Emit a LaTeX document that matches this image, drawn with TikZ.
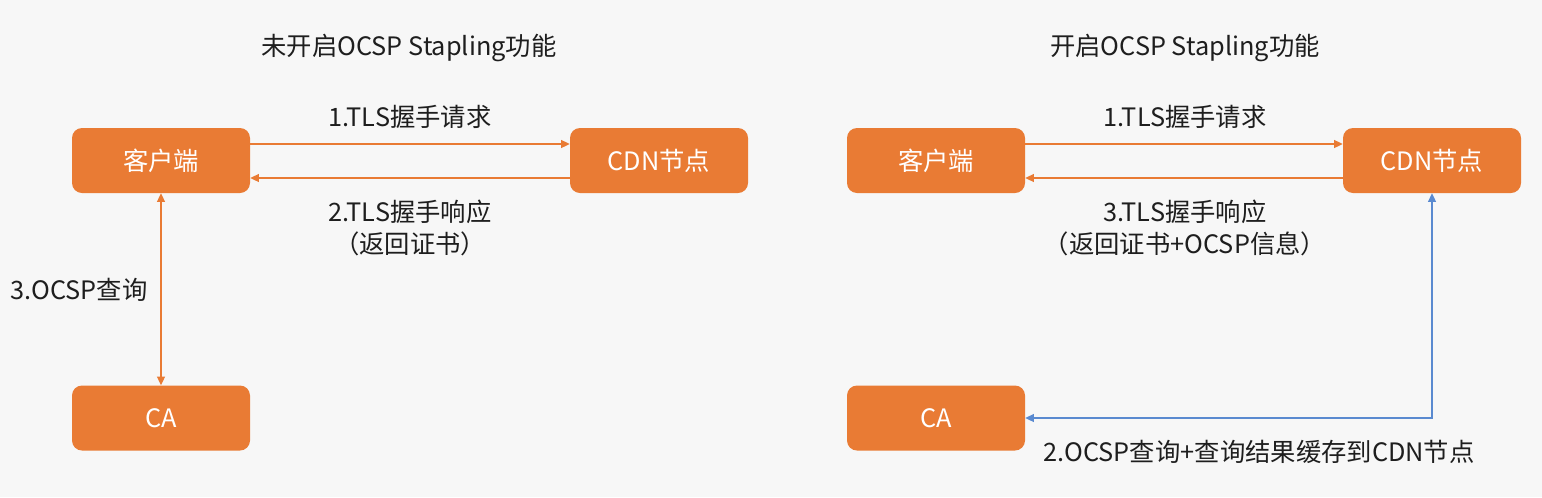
\documentclass[tikz,border=0pt]{standalone}
\usepackage{fontspec}
\setmainfont{Noto Sans CJK SC}
\usetikzlibrary{arrows.meta}

\definecolor{boxorange}{RGB}{233,123,52}
\definecolor{linkblue}{RGB}{90,138,208}
\definecolor{bggray}{RGB}{247,247,247}
\definecolor{txtgray}{RGB}{30,30,30}

\tikzset{
  box/.style={fill=boxorange, rounded corners=7.5pt, minimum width=133.5pt,
    minimum height=48.75pt, inner sep=0pt, text=white,
    font=\fontsize{19}{23.5}\selectfont},
  txt/.style={text=txtgray, align=center, inner sep=0pt,
    font=\fontsize{19}{23.5}\selectfont},
  link/.style={boxorange, line width=0.9pt, ->},
  >={Triangle[length=6.5pt,width=6pt]},
}

\begin{document}
\begin{tikzpicture}[x=0.75pt,y=-0.75pt]
  \fill[bggray] (0,0) rectangle (1542,497);
  \useasboundingbox (0,0) rectangle (1542,497);

  % without stapling
  \node[txt] (title1) at (409,48) {未开启OCSP Stapling功能};
  \node[box] (client1) at (161,160.5) {客户端};
  \node[box] (cdn1) at (659,160.5) {CDN节点};
  \node[box] (ca1) at (161,418) {CA};

  \draw[link] (client1.east |- 0,144) -- (cdn1.west |- 0,144);
  \draw[link] (cdn1.west |- 0,178) -- (client1.east |- 0,178);
  \draw[link, <->] (client1.south) -- (ca1.north);

  \node[txt] (req1) at (410,117) {1.TLS握手请求};
  \node[txt] (resp1) at (410,228) {2.TLS握手响应\\（返回证书）};
  \node[txt] (query1) at (79,290) {3.OCSP查询};

  % with stapling
  \node[txt] (title2) at (1185,48) {开启OCSP Stapling功能};
  \node[box] (client2) at (936,160.5) {客户端};
  \node[box] (cdn2) at (1432,160.5) {CDN节点};
  \node[box] (ca2) at (936,418) {CA};
  \coordinate (tap) at (1432,0);

  \draw[link] (client2.east |- 0,144) -- (cdn2.west |- 0,144);
  \draw[link] (cdn2.west |- 0,178) -- (client2.east |- 0,178);
  \draw[link, linkblue, <->] (cdn2.south -| tap) |- (ca2.east);

  \node[txt] (req2) at (1185,117) {1.TLS握手请求};
  \node[txt] (resp2) at (1185,228) {3.TLS握手响应\\（返回证书+OCSP信息）};
  \node[txt] (cache2) at (1259,452) {2.OCSP查询+查询结果缓存到CDN节点};
\end{tikzpicture}
\end{document}
